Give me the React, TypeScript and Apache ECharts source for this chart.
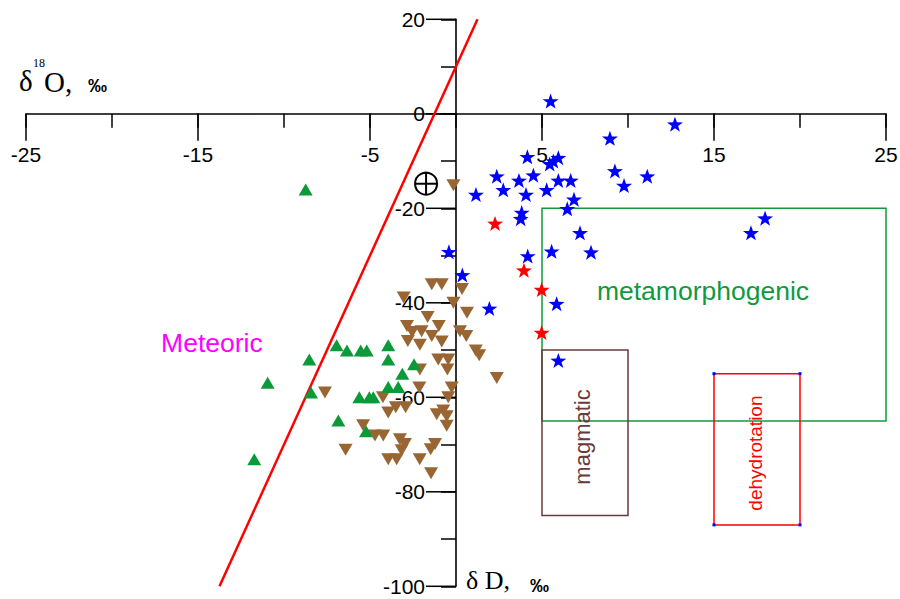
import React, { useEffect, useRef } from "react";
import * as echarts from "echarts";

// Isotope pairs: [δ18O ‰, δD ‰]
const blueStars: [number, number][] = [
  [5.5, 2.7], [8.95, -5.2], [12.73, -2.2], [4.15, -9.1], [5.66, -10.0], [5.95, -9.3],
  [5.45, -10.6], [2.37, -13.2], [3.66, -14.1], [4.5, -13.0], [5.95, -14.1], [6.67, -14.1],
  [9.24, -12.1], [9.77, -15.2], [11.12, -13.2], [1.16, -17.1], [2.75, -16.1], [4.07, -17.1],
  [5.27, -16.1], [6.86, -18.1], [6.47, -20.1], [3.82, -20.9], [3.76, -22.2], [7.21, -25.2],
  [7.85, -29.3], [17.97, -22.1], [17.15, -25.2], [-0.41, -29.2], [4.17, -30.1], [5.56, -29.1],
  [0.37, -34.1], [1.94, -41.2], [5.85, -40.2], [5.95, -52.2],
];

const redStars: [number, number][] = [
  [2.27, -23.2], [3.95, -33.1], [4.98, -37.2], [4.98, -46.3],
];

const greenTriangles: [number, number][] = [
  [-8.74, -16.0], [-6.94, -49.0], [-6.34, -50.1], [-5.54, -50.1], [-5.19, -50.1],
  [-3.94, -49.0], [-3.94, -52.0], [-8.53, -52.0], [-2.44, -53.0], [-3.12, -55.0],
  [-3.94, -57.8], [-3.36, -57.8], [-10.95, -56.9], [-8.43, -59.0], [-5.62, -60.0],
  [-5.04, -60.0], [-4.81, -60.0], [-6.84, -64.9], [-5.23, -67.2], [-11.73, -73.1],
];

const brownTriangles: [number, number][] = [
  [-0.15, -15.1], [-1.41, -36.1], [-0.83, -36.1], [0.35, -37.1], [-3.04, -38.9],
  [-0.15, -40.0], [0.64, -42.1], [-1.65, -43.0], [-2.85, -44.9], [-1.0, -44.9],
  [-2.55, -46.2], [-2.0, -46.0], [0.23, -46.0], [-1.41, -47.0], [0.6, -47.0],
  [-2.8, -48.1], [-0.83, -48.2], [-2.1, -48.9], [1.15, -50.1], [1.35, -51.1],
  [-1.03, -52.0], [-0.45, -52.0], [-2.1, -54.1], [-0.5, -54.1], [2.37, -55.9],
  [-2.13, -57.9], [-0.25, -57.9], [-7.62, -59.0], [-4.25, -60.0], [-0.45, -60.0],
  [-3.5, -62.1], [-2.93, -62.1], [-3.94, -63.2], [-1.12, -63.6], [-0.74, -62.8],
  [-0.54, -64.0], [-0.54, -66.0], [-5.4, -65.9], [-4.71, -68.1], [-4.23, -68.1],
  [-3.26, -68.9], [-2.97, -69.9], [-3.16, -71.2], [-1.22, -69.9], [-1.47, -71.0],
  [-6.42, -71.1], [-3.94, -73.1], [-3.45, -73.1], [-2.11, -73.1], [-1.45, -76.1],
];

// Meteoric water line δD = 8·δ18O + 10
const meteoricLine: [number, number][] = [[-13.75, -100], [1.25, 20]];

// Genetic fields: [x from, x to, y from, y to]
const fieldNames = ["metamorphogenic", "magmatic", "dehydrotation"];
const fieldBounds: [number, number, number, number][] = [
  [5, 25, -65, -20],
  [5, 10, -85, -50],
  [15, 20, -87, -55],
];
const fieldColors = ["#0f9a3c", "#6b3a3a", "#ff0000"];

// Text annotations: [x, y] anchors in data units
const annotationTexts = ["metamorphogenic", "Meteoric", "magmatic", "dehydrotation"];
const annotationAnchors: [number, number][] = [[14.36, -37.5], [-14.19, -48.5], [7.38, -68.4], [17.44, -71.8]];
const annotationColors = ["#0f9a3c", "#ff00ff", "#6b3a3a", "#ff0000"];

const smowPoint: [number, number][] = [[-1.74, -14.8]];

// Labelled tick values
const xMajorTicks = [-25, -15, -5, 5, 15, 25];
const yMajorTicks = [20, 0, -20, -40, -60, -80, -100];

const STAR =
  "path://M0,-10L2.35,-3.24L9.51,-3.09L3.8,1.24L5.88,8.09L0,4L-5.88,8.09L-3.8,1.24L-9.51,-3.09L-2.35,-3.24Z";

const SANS = "Liberation Sans, Arial, sans-serif";
const SERIF = "Liberation Serif, Times New Roman, serif";
const TICK_FONT = `21px ${SANS}`;

export default function App() {
  const ref = useRef<HTMLDivElement>(null);

  useEffect(() => {
    if (!ref.current) return;
    const chart = echarts.init(ref.current, undefined, { renderer: "svg" });

    const option: any = {
      animation: false,
      backgroundColor: "#ffffff",
      grid: { left: 26, right: 14, top: 19.3, bottom: 12.7, containLabel: false, outerBoundsMode: "none" },
      xAxis: {
        type: "value",
        min: -25,
        max: 25,
        interval: 5,
        axisLine: { onZero: true, lineStyle: { color: "#000", width: 1.6 } },
        axisTick: { show: true, length: 14, lineStyle: { color: "#000", width: 1.5 } },
        axisLabel: { show: false },
        splitLine: { show: false },
      },
      yAxis: {
        type: "value",
        min: -100,
        max: 20,
        interval: 10,
        axisLine: { onZero: true, lineStyle: { color: "#000", width: 1.6 } },
        axisTick: { show: true, length: 15, lineStyle: { color: "#000", width: 1.5 } },
        axisLabel: { show: false },
        splitLine: { show: false },
      },
      graphic: [
        { type: "text", x: 19, y: 81, style: { text: "δ", font: `29px ${SERIF}`, fill: "#000", verticalAlign: "middle" } },
        { type: "text", x: 33, y: 63, style: { text: "18", font: `12px ${SERIF}`, fill: "#000", verticalAlign: "middle" } },
        { type: "text", x: 44, y: 82, style: { text: "O,", font: `29px ${SERIF}`, fill: "#000", verticalAlign: "middle" } },
        { type: "text", x: 88, y: 85, style: { text: "‰", font: `bold 19px ${SANS}`, fill: "#000", verticalAlign: "middle" } },
        { type: "text", x: 466, y: 580, style: { text: "δ D,", font: `26px ${SERIF}`, fill: "#000", verticalAlign: "middle" } },
        { type: "text", x: 530, y: 585, style: { text: "‰", font: `bold 19px ${SANS}`, fill: "#000", verticalAlign: "middle" } },
      ],
      series: [
        {
          type: "custom",
          name: "fields",
          clip: false,
          z: 1,
          data: fieldBounds.map((b, i) => [...b, i]),
          renderItem: (_p: any, api: any) => {
            const i = api.value(4);
            const a = api.coord([api.value(0), api.value(3)]);
            const b = api.coord([api.value(1), api.value(2)]);
            const children: any[] = [
              {
                type: "rect",
                shape: { x: a[0], y: a[1], width: b[0] - a[0], height: b[1] - a[1] },
                style: { fill: "none", stroke: fieldColors[i], lineWidth: 1.5 },
              },
            ];
            if (fieldNames[i] === "dehydrotation") {
              [[a[0], a[1]], [b[0], a[1]], [a[0], b[1]], [b[0], b[1]]].forEach((c) =>
                children.push({ type: "rect", shape: { x: c[0] - 1.5, y: c[1] - 1.5, width: 3, height: 3 }, style: { fill: "#0000ff" } })
              );
            }
            return { type: "group", children };
          },
        },
        {
          type: "custom",
          name: "annotations",
          clip: false,
          z: 2,
          data: annotationAnchors.map((p, i) => [p[0], p[1], i]),
          renderItem: (_p: any, api: any) => {
            const i = api.value(2);
            const c = api.coord([api.value(0), api.value(1)]);
            const vertical = i >= 2;
            const size = i === 2 ? 22 : i === 3 ? 19 : 26.5;
            return {
              type: "text",
              x: c[0],
              y: c[1],
              rotation: vertical ? Math.PI / 2 : 0,
              style: {
                text: annotationTexts[i],
                font: `${size}px ${SANS}`,
                fill: annotationColors[i],
                align: "center",
                verticalAlign: "middle",
              },
            };
          },
        },
        {
          type: "custom",
          name: "xMajorTicks",
          clip: false,
          silent: true,
          data: xMajorTicks.map((v) => [v, 0]),
          renderItem: (_p: any, api: any) => {
            const v = api.value(0);
            const c = api.coord([v, 0]);
            return {
              type: "group",
              children: [
                {
                  type: "line",
                  shape: { x1: c[0], y1: c[1], x2: c[0], y2: c[1] + 27 },
                  style: { stroke: "#000", lineWidth: 1.5 },
                },
                {
                  type: "text",
                  x: c[0],
                  y: c[1] + 41,
                  style: { text: String(v), font: TICK_FONT, fill: "#000", align: "center", verticalAlign: "middle" },
                },
              ],
            };
          },
        },
        {
          type: "custom",
          name: "yMajorTicks",
          clip: false,
          silent: true,
          data: yMajorTicks.map((v) => [0, v]),
          renderItem: (_p: any, api: any) => {
            const v = api.value(1);
            const c = api.coord([0, v]);
            return {
              type: "group",
              children: [
                {
                  type: "line",
                  shape: { x1: c[0], y1: c[1], x2: c[0] - 30, y2: c[1] },
                  style: { stroke: "#000", lineWidth: 1.5 },
                },
                {
                  type: "text",
                  x: c[0] - 31,
                  y: c[1],
                  style: { text: String(v), font: TICK_FONT, fill: "#000", align: "right", verticalAlign: "middle" },
                },
              ],
            };
          },
        },
        {
          type: "custom",
          name: "smow",
          clip: false,
          data: smowPoint,
          renderItem: (_p: any, api: any) => {
            const c = api.coord([api.value(0), api.value(1)]);
            const r = 11;
            const st = { stroke: "#000", lineWidth: 2, fill: "none" };
            return {
              type: "group",
              children: [
                { type: "circle", shape: { cx: c[0], cy: c[1], r }, style: st },
                { type: "line", shape: { x1: c[0] - r, y1: c[1], x2: c[0] + r, y2: c[1] }, style: st },
                { type: "line", shape: { x1: c[0], y1: c[1] - r, x2: c[0], y2: c[1] + r }, style: st },
              ],
            };
          },
        },
        {
          type: "line",
          name: "meteoric",
          data: meteoricLine,
          symbol: "none",
          clip: false,
          z: 3,
          lineStyle: { color: "#ff0000", width: 2.5 },
        },
        {
          type: "scatter",
          name: "brown",
          data: brownTriangles,
          symbol: "triangle",
          symbolRotate: 180,
          symbolSize: [14, 12],
          itemStyle: { color: "#996633", opacity: 1 },
          z: 4,
        },
        {
          type: "scatter",
          name: "green",
          data: greenTriangles,
          symbol: "triangle",
          symbolSize: [14, 12],
          itemStyle: { color: "#0a9a3a", opacity: 1 },
          z: 5,
        },
        {
          type: "scatter",
          name: "blue",
          data: blueStars,
          symbol: STAR,
          symbolSize: [16, 15],
          itemStyle: { color: "#0000ff", opacity: 1 },
          z: 6,
        },
        {
          type: "scatter",
          name: "red",
          data: redStars,
          symbol: STAR,
          symbolSize: [16, 15],
          itemStyle: { color: "#ff0000", opacity: 1 },
          z: 7,
        },
      ],
    };

    chart.setOption(option);
    return () => chart.dispose();
  }, []);

  return (
    <div
      ref={ref}
      style={{ position: "absolute", left: 0, top: 0, width: 900, height: 599, background: "#fff" }}
    />
  );
}
